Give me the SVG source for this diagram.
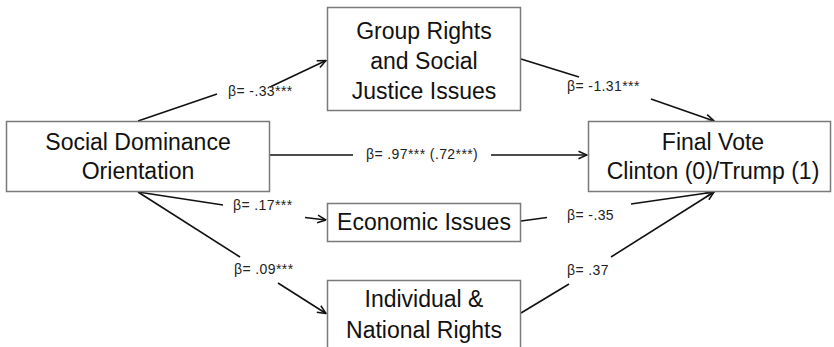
<svg xmlns="http://www.w3.org/2000/svg" width="834" height="347" viewBox="0 0 834 347">
<defs>
<style>
.box{fill:#fff;stroke:#7a7a7a;stroke-width:1.5}
.nt{font-family:"Liberation Sans",Arial,sans-serif;font-size:23px;fill:#111;text-anchor:middle}
.lb{font-family:"Liberation Sans",Arial,sans-serif;font-size:14px;fill:#222;letter-spacing:0.4px}
.ln{fill:none;stroke:#111;stroke-width:1.6}
</style>
<marker id="arr" viewBox="0 0 10 10" refX="9.5" refY="5" markerWidth="10" markerHeight="10" markerUnits="userSpaceOnUse" orient="auto">
<path d="M1,1.2 L9.5,5 L1,8.8" fill="none" stroke="#111" stroke-width="1.5"/>
</marker>
</defs>
<rect width="834" height="347" fill="#fff"/>
<g id="connectors">
<line class="ln" x1="138" y1="121" x2="217" y2="94"/>
<line class="ln" x1="270" y1="87" x2="326" y2="60.5" marker-end="url(#arr)"/>
<line class="ln" x1="521" y1="59" x2="579" y2="77"/>
<line class="ln" x1="651" y1="99" x2="714" y2="121" marker-end="url(#arr)"/>
<line class="ln" x1="269" y1="155" x2="353" y2="155"/>
<line class="ln" x1="491" y1="155" x2="587" y2="155" marker-end="url(#arr)"/>
<line class="ln" x1="138" y1="192" x2="223" y2="205"/>
<line class="ln" x1="305" y1="217.5" x2="326" y2="220" marker-end="url(#arr)"/>
<line class="ln" x1="138" y1="192" x2="240" y2="257"/>
<line class="ln" x1="278" y1="283" x2="326" y2="313.5" marker-end="url(#arr)"/>
<line class="ln" x1="521" y1="221" x2="547" y2="217.5"/>
<line class="ln" x1="631" y1="204" x2="714" y2="192" marker-end="url(#arr)"/>
<line class="ln" x1="521" y1="313" x2="569" y2="284"/>
<line class="ln" x1="611" y1="257" x2="714" y2="192" marker-end="url(#arr)"/>
<text class="lb" x="228" y="96">β= -.33***</text>
<text class="lb" x="567" y="91">β= -1.31***</text>
<text class="lb" x="366" y="159">β= .97*** (.72***)</text>
<text class="lb" x="233" y="210">β= .17***</text>
<text class="lb" x="234" y="274">β= .09***</text>
<text class="lb" x="567" y="220">β= -.35</text>
<text class="lb" x="567" y="275">β= .37</text>
</g>
<g id="sdo">
<rect class="box" x="6.5" y="121.5" width="263" height="70"/>
<text class="nt" x="138" y="150">Social Dominance</text>
<text class="nt" x="138" y="179">Orientation</text>
</g>
<g id="group-rights">
<rect class="box" x="327.5" y="7.5" width="193" height="103"/>
<text class="nt" x="424" y="39">Group Rights</text>
<text class="nt" x="424" y="69">and Social</text>
<text class="nt" x="424" y="99">Justice Issues</text>
</g>
<g id="final-vote">
<rect class="box" x="588.5" y="121.5" width="242" height="70"/>
<text class="nt" x="713" y="150">Final Vote</text>
<text class="nt" x="713" y="179">Clinton (0)/Trump (1)</text>
</g>
<g id="economic">
<rect class="box" x="327.5" y="203.5" width="193" height="38"/>
<text class="nt" x="424" y="230">Economic Issues</text>
</g>
<g id="individual">
<rect class="box" x="327.5" y="280.5" width="193" height="80"/>
<text class="nt" x="424" y="307">Individual &amp;</text>
<text class="nt" x="424" y="338">National Rights</text>
</g>
</svg>
